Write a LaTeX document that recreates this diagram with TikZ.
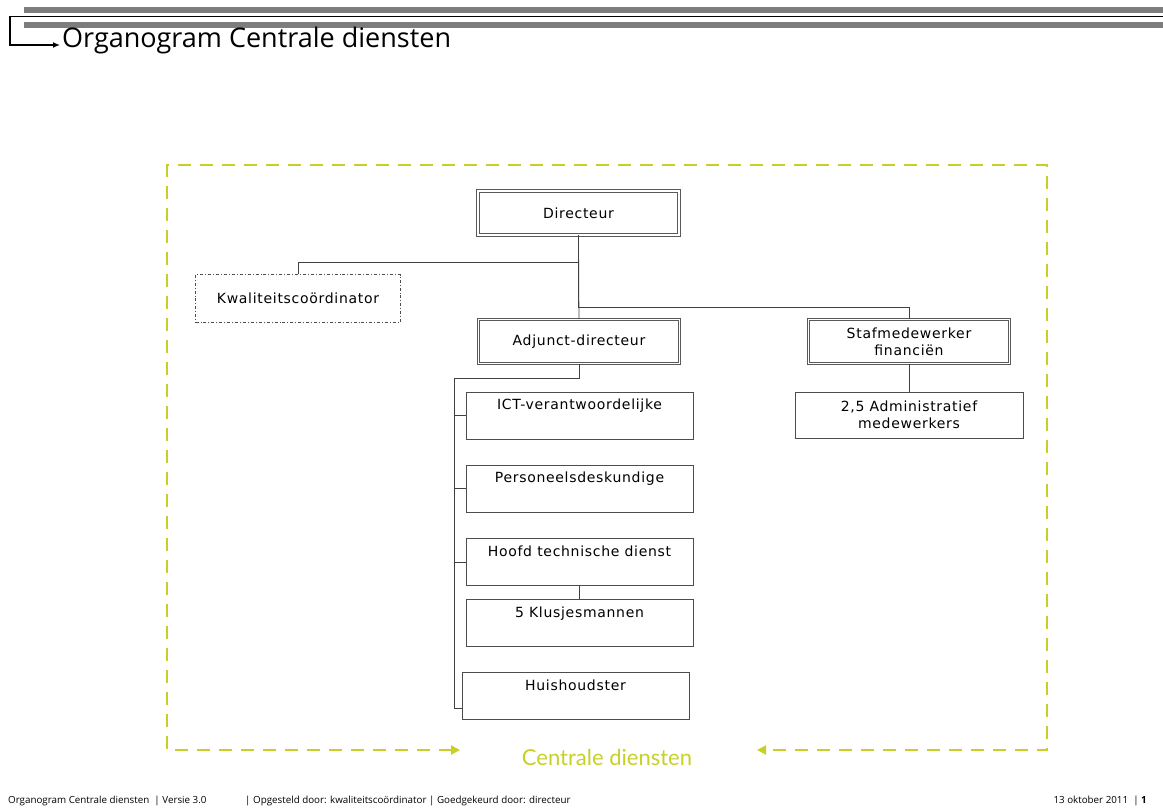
\documentclass[tikz,border=0pt]{standalone}
\usepackage{fontspec}
\setmainfont{Open Sans}
\newfontfamily\boxfont[LetterSpace=5]{DejaVu Sans}
\newfontfamily\framefont{Lato}
\usetikzlibrary{arrows.meta}
\definecolor{frameyellow}{RGB}{200,208,40}
\definecolor{bandgray}{RGB}{125,125,125}

\begin{document}
\begin{tikzpicture}[x=1pt,y=-1pt,
  post/.style={draw=black!65, double=white, double distance=1.6pt, line width=0.8pt,
    minimum width=201pt, minimum height=44pt, align=center,
    font=\boxfont\fontsize{14}{17}\selectfont},
  unit/.style={draw=black!70, line width=0.9pt, minimum width=227pt, minimum height=47pt,
    align=center, font=\boxfont\fontsize{14}{17}\selectfont},
  staff/.style={draw=black!70, line width=0.9pt, dash dot, minimum width=205pt,
    minimum height=48pt, align=center, font=\boxfont\fontsize{14}{17}\selectfont},
  link/.style={draw=black!75, line width=0.7pt},
  frame/.style={draw=frameyellow, line width=2pt, dash pattern=on 13pt off 9pt,
    {Triangle[length=9pt,width=9pt]}-{Triangle[length=9pt,width=9pt]}},
  foot/.style={anchor=base west, inner sep=0pt, font=\fontsize{9.8}{12}\selectfont}
]
\useasboundingbox (0,0) rectangle (1163,807);

\fill[bandgray] (24,7) rectangle (1163,13);
\fill[bandgray] (24,22) rectangle (1163,28);
\node[anchor=base west, inner sep=0pt, font=\fontsize{27}{32}\selectfont] (title) at (62,47) {Organogram Centrale diensten};
\coordinate (bar) at (1163,16.5);
\draw[line width=1.4pt, -{Latex[length=7pt,width=6pt]}] (bar) -| (10,45) -- ([shift={(-2,-2)}]title.base west);

\node[post] (adj) at (579,341.5) {Adjunct-directeur};
\node[post] (dir) at (578.5,213) {Directeur};
\node[staff] (kwal) at (298,298.5) {Kwaliteitscoördinator};
\node[post] (staf) at (909,341.5) {Stafmedewerker\\financiën};
\node[unit, minimum width=228pt, minimum height=46pt] (adm) at (909,415) {2,5 Administratief\\medewerkers};

\node[unit] (ict) at (579.5,415.5) {ICT-verantwoordelijke\\\strut};
\node[unit] (pers) at (579.5,488.5) {Personeelsdeskundige\\\strut};
\node[unit] (hoofd) at (579.5,562) {Hoofd technische dienst\\\strut};
\node[unit] (klus) at (579.5,623) {5 Klusjesmannen\\\strut};
\node[unit] (huis) at (575.5,696) {Huishoudster\\\strut};

\draw[link] (dir.south) -- (adj.north);
\draw[link] (kwal.north) -- ++(0,-12) -| (dir.south);
\draw[link] (staf.north) -- ++(0,-12) -| (dir.south);
\draw[link] (staf.south) -- (adm.north);

\coordinate (spine) at (454,378);
\coordinate (spineend) at (454,708);
\draw[link] (adj.south) |- (spine) -- (spineend) -- (spineend -| huis.west);
\draw[link] (ict.west) -- (ict.west -| spine);
\draw[link] (pers.west) -- (pers.west -| spine);
\draw[link] (hoofd.west) -- (hoofd.west -| spine);
\draw[link] (hoofd.south) -- (klus.north);

\draw[frame] (460,750) -| (167,165) -| (1047,750) -- (757,750);
\node[text=frameyellow, font=\framefont\fontsize{22}{26}\selectfont] (area) at (607,757) {Centrale diensten};

\node[foot] (f1) at (8,803) {Organogram Centrale diensten \ | Versie 3.0};
\node[foot] (f2) at (245,803) {| Opgesteld door: kwaliteitscoördinator | Goedgekeurd door: directeur};
\node[foot, anchor=base east] (f3) at (1147,803) {13 oktober 2011 \ | \textbf{1}};
\end{tikzpicture}
\end{document}
